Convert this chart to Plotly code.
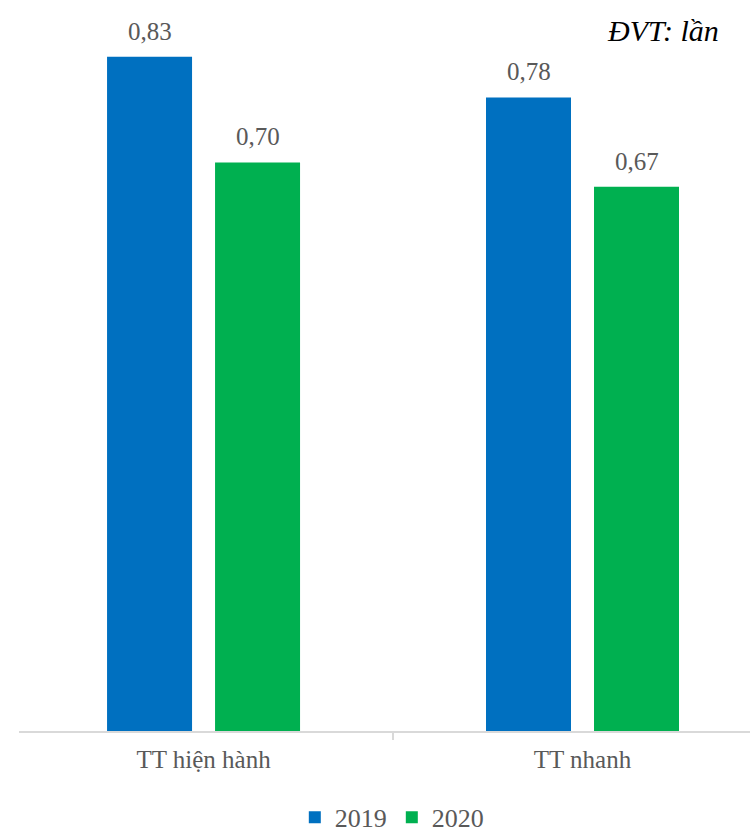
import plotly.graph_objects as go

categories = ["TT hiện hành", "TT nhanh"]
values_2019 = [0.83, 0.78]
values_2020 = [0.70, 0.67]
labels_2019 = ["0,83", "0,78"]
labels_2020 = ["0,70", "0,67"]
series_names = ["2019", "2020"]
unit_text = "ĐVT: lần"

BLUE = "#0070C0"
GREEN = "#00B050"
TXT = "#595959"
FONT = "Liberation Serif, Times New Roman, serif"

BAR_SLOT_PX = 108  # horizontal distance between the two bars of a group

fig = go.Figure()
fig.add_trace(go.Bar(
    x=categories, y=values_2019, name=series_names[0],
    marker=dict(color=BLUE, line=dict(width=0)),
))
fig.add_trace(go.Bar(
    x=categories, y=values_2020, name=series_names[1],
    marker=dict(color=GREEN, line=dict(width=0)),
))

annotations = []
for si, (vals, labs) in enumerate([(values_2019, labels_2019), (values_2020, labels_2020)]):
    for cat, v, lab in zip(categories, vals, labs):
        annotations.append(dict(
            x=cat, y=v, xref="x", yref="y", text=lab, showarrow=False,
            xanchor="center", yanchor="bottom",
            xshift=(si - 0.5) * BAR_SLOT_PX, yshift=10,
            font=dict(family=FONT, size=25, color=TXT),
        ))
annotations.append(dict(
    text=unit_text, xref="paper", yref="paper", x=0.961, y=0.958,
    xanchor="right", yanchor="middle", showarrow=False,
    font=dict(family=FONT, size=30, color="#000000", style="italic"),
))

fig.update_layout(
    width=750, height=832,
    margin=dict(l=19, r=0, t=0, b=101, autoexpand=False),
    paper_bgcolor="white", plot_bgcolor="white",
    barmode="group", bargap=0.43, bargroupgap=0.213,
    font=dict(family=FONT, size=25, color=TXT),
    xaxis=dict(
        type="category", range=[-0.487, 1.442], automargin=False,
        showline=True, linecolor="#D9D9D9", linewidth=1.5,
        ticks="outside", tickson="boundaries", ticklen=7,
        tickcolor="#D9D9D9", tickwidth=1.5,
        showgrid=False, zeroline=False,
        tickfont=dict(family=FONT, size=25, color=TXT),
        ticklabelstandoff=5,
    ),
    yaxis=dict(range=[0, 0.9], visible=False, showgrid=False, zeroline=False,
               automargin=False),
    showlegend=True,
    legend=dict(
        orientation="h", x=0.51, xanchor="center", y=-0.118, yanchor="middle",
        font=dict(family=FONT, size=26, color=TXT),
        bgcolor="rgba(0,0,0,0)", itemwidth=30, traceorder="normal",
    ),
    annotations=annotations,
)

fig.write_html("out.html")
